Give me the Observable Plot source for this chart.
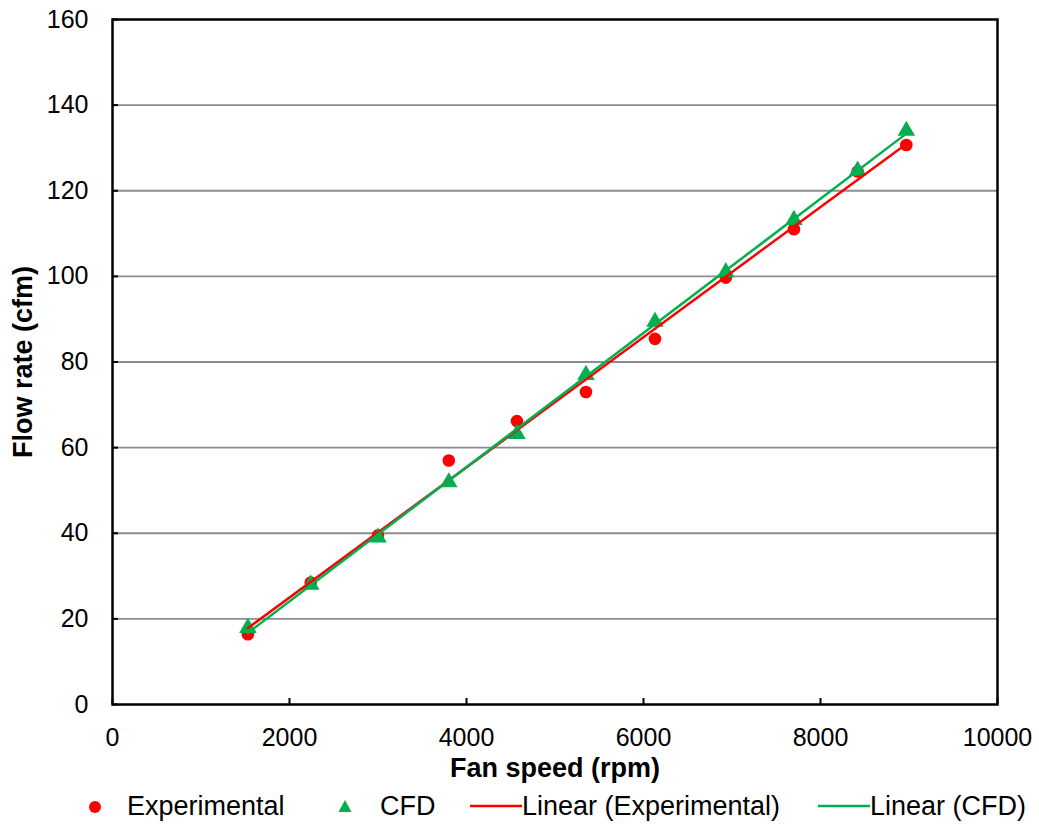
<!DOCTYPE html>
<html>
<head>
<meta charset="utf-8">
<script src="https://cdn.jsdelivr.net/npm/d3@7"></script>
<script src="https://cdn.jsdelivr.net/npm/@observablehq/plot@0.6"></script>
<style>
  body { margin: 0; background: #fff; font-family: "Liberation Sans", Arial, sans-serif; }
  #wrap { position: relative; width: 1039px; height: 825px; }
  #chart svg [aria-label="x-axis label"], #chart svg [aria-label="y-axis label"] { font-weight: bold; font-size: 27px; }
  .leg { position: absolute; top: 791px; font-size: 27px; color: #000; line-height: 30px; white-space: nowrap; }
  .sw { position: absolute; top: 792px; }
</style>
</head>
<body>
<div id="wrap">
  <div id="chart"></div>
  <svg class="sw" style="left:85px" width="20" height="28"><circle cx="10" cy="15" r="6" fill="#FF0000"/></svg>
  <div class="leg" style="left:127px">Experimental</div>
  <svg class="sw" style="left:335px" width="20" height="28"><path d="M10,8 L16.5,20 L3.5,20 Z" fill="#00B050"/></svg>
  <div class="leg" style="left:380px">CFD</div>
  <svg class="sw" style="left:470px" width="52" height="28"><line x1="0" x2="52" y1="14" y2="14" stroke="#FF0000" stroke-width="2.5"/></svg>
  <div class="leg" style="left:522px">Linear (Experimental)</div>
  <svg class="sw" style="left:818px" width="52" height="28"><line x1="0" x2="52" y1="14" y2="14" stroke="#00B050" stroke-width="2.5"/></svg>
  <div class="leg" style="left:870px">Linear (CFD)</div>
</div>
<script>
// Fan speed (rpm)
const fanSpeed = [1530, 2240, 3000, 3800, 4570, 5350, 6130, 6930, 7700, 8420, 8970];
// Flow rate (cfm)
const experimental = [16.4, 28.5, 39.5, 57.0, 66.2, 73.0, 85.4, 99.7, 111.0, 124.5, 130.7];
const cfd = [17.9, 28.0, 39.0, 51.9, 63.2, 77.0, 89.4, 101.0, 113.2, 124.7, 134.0];
const xTicks = [0, 2000, 4000, 6000, 8000, 10000];
const yTicks = [0, 20, 40, 60, 80, 100, 120, 140, 160];

const expData = fanSpeed.map((x, i) => ({x, y: experimental[i]}));
const cfdData = fanSpeed.map((x, i) => ({x, y: cfd[i]}));

const chart = Plot.plot({
  width: 1039,
  height: 785,
  marginTop: 19,
  marginBottom: 81,
  marginLeft: 112,
  marginRight: 42,
  style: { fontFamily: '"Liberation Sans", Arial, sans-serif', fontSize: "25px", color: "#000", background: "#fff" },
  x: { domain: [0, 10000], label: "Fan speed (rpm)", labelArrow: "none" },
  y: { domain: [0, 160], label: "Flow rate (cfm)", labelArrow: "none" },
  marks: [
    Plot.gridY(yTicks.filter(d => d > 0 && d < 160), { stroke: "#8c8c8c", strokeWidth: 1.8, strokeOpacity: 1 }),
    Plot.frame({ stroke: "#000", strokeWidth: 2.5 }),
    Plot.axisX(xTicks, { tickSize: -6, tickPadding: 30, tickFormat: d => String(d), label: "Fan speed (rpm)", labelArrow: "none", labelAnchor: "center", labelOffset: 72, stroke: "#000", strokeWidth: 2 }),
    Plot.axisY(yTicks, { tickSize: -6, tickPadding: 30, tickFormat: d => String(d), label: "Flow rate (cfm)", labelArrow: "none", labelAnchor: "center", labelOffset: 100, stroke: "#000", strokeWidth: 2 }),
    Plot.dot(expData, { x: "x", y: "y", r: 6.3, fill: "#FF0000", stroke: "none" }),
    Plot.dot(cfdData, { x: "x", y: "y", r: 6.5, symbol: "triangle", fill: "#00B050", stroke: "none" }),
    Plot.linearRegressionY(expData, { x: "x", y: "y", stroke: "#FF0000", strokeWidth: 2.5, ci: 0 }),
    Plot.linearRegressionY(cfdData, { x: "x", y: "y", stroke: "#00B050", strokeWidth: 2.5, ci: 0 })
  ]
});
document.getElementById("chart").appendChild(chart);
</script>
</body>
</html>
